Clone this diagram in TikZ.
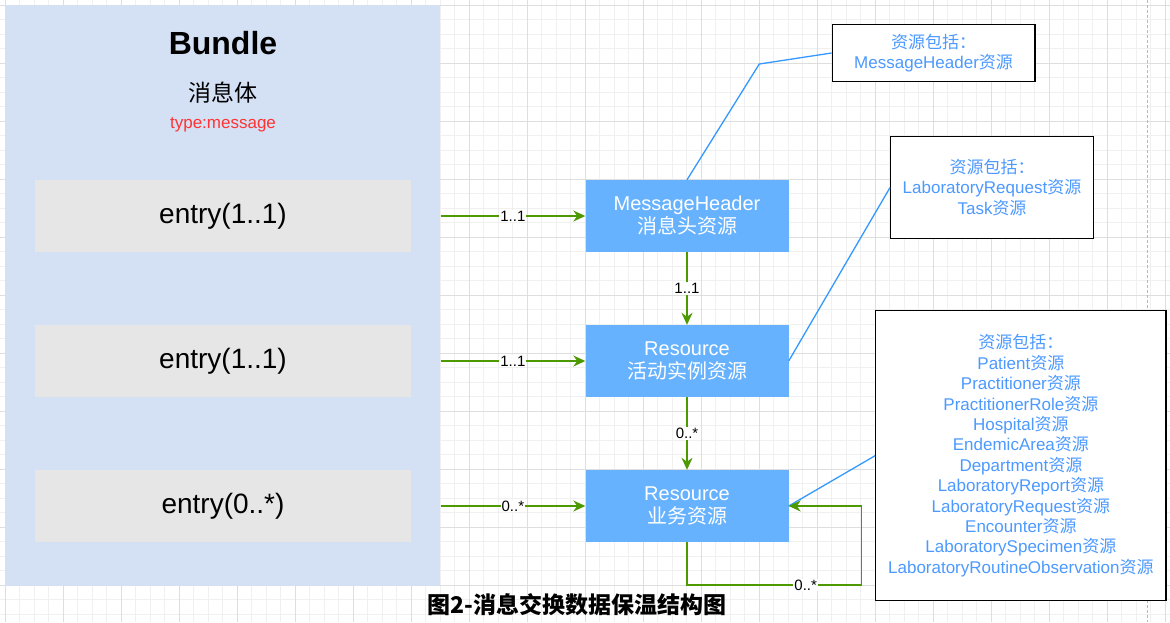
\documentclass[tikz,border=0pt]{standalone}
\usepackage{fontspec}
\setmainfont{Liberation Sans}
\newfontfamily\cjk{Noto Sans CJK SC}
\usetikzlibrary{arrows.meta}
\definecolor{bundlefill}{HTML}{D4E1F5}
\definecolor{entryfill}{HTML}{E6E6E6}
\definecolor{resfill}{HTML}{66B2FF}
\definecolor{flowgreen}{HTML}{4D9900}
\definecolor{linkblue}{HTML}{3399FF}
\definecolor{notetext}{HTML}{4C99FF}
\definecolor{typered}{HTML}{FF3333}
\newcommand\zh[1]{{\cjk #1}}
\newcommand\fsz[2]{\fontsize{#1}{#2}\selectfont}
\tikzset{
	minorgrid/.style={draw=black!6, line width=0.8pt},
	majorgrid/.style={draw=black!13, line width=0.8pt},
	entrybox/.style={fill=entryfill, minimum width=376pt, minimum height=72pt, font=\fsz{28}{32}},
	resbox/.style={fill=resfill, text=white, minimum width=203pt, minimum height=72pt, align=center, font=\fsz{20}{23}},
	notebox/.style={draw=black, line width=1.3pt, fill=white, text=notetext, align=center, font=\fsz{17}{20.4}},
	flow/.style={draw=flowgreen, line width=1.3pt, -{Stealth[length=12pt,width=11pt]}},
	mult/.style={fill=white, inner sep=1pt, font=\fsz{15}{18}},
	link/.style={draw=linkblue, line width=1.3pt},
}

\begin{document}
\begin{tikzpicture}[x=1pt, y=-1pt]
			%%%%% START %%%%%
			\useasboundingbox[fill=white] (0, 0) rectangle (1170, 622);
			
			% background grid
			\foreach \k in {0,...,80} \draw[minorgrid] ({5.3+14.5*\k}, 0) -- ({5.3+14.5*\k}, 622);
			\foreach \k in {0,...,42} \draw[minorgrid] (0, {5.3+14.5*\k}) -- (1170, {5.3+14.5*\k});
			\foreach \k in {0,...,20} \draw[majorgrid] ({5.3+58*\k}, 0) -- ({5.3+58*\k}, 622);
			\foreach \k in {0,...,10} \draw[majorgrid] (0, {5.3+58*\k}) -- (1170, {5.3+58*\k});
			\draw[black!28, line width=0.8pt, dash pattern=on 3pt off 2pt] (1147.7, 0) -- (1147.7, 622);
			
			% bundle
			\node[fill=bundlefill, inner sep=0pt, minimum width=435pt, minimum height=580.4pt] (bundle) at (222.8, 295.5) {};
			\node[anchor=base, font=\bfseries\fsz{32}{36}] (title) at (223, 54) {Bundle};
			\node[anchor=base, font=\cjk\fsz{23}{27}] (subtitle) at (223, 101) {消息体};
			\node[anchor=base, text=typered, font=\fsz{17}{20}] (type) at (223, 128) {type:message};
			
			\node[entrybox] (e1) at (223, 216) {entry(1..1)};
			\node[entrybox] (e2) at (223, 361) {entry(1..1)};
			\node[entrybox] (e3) at (223, 506) {entry(0..*)};
			
			% resources
			\node[resbox] (m1) at (687, 216) {MessageHeader\\\zh{消息头资源}};
			\node[resbox] (r1) at (687, 361) {Resource\\\zh{活动实例资源}};
			\node[resbox] (r2) at (687, 506) {Resource\\\zh{业务资源}};
			
			% notes
			\node[notebox, minimum width=202.7pt, minimum height=57.4pt] (n1) at (933.6, 53) {\zh{资源包括：}\\MessageHeader\zh{资源}};
			\node[notebox, minimum width=202.6pt, minimum height=101.6pt] (n2) at (992, 187.5) {\zh{资源包括：}\\LaboratoryRequest\zh{资源}\\Task\zh{资源}};
			\node[notebox, minimum width=290.3pt, minimum height=290pt] (n3) at (1020.9, 455.7) {\zh{资源包括：}\\Patient\zh{资源}\\Practitioner\zh{资源}\\PractitionerRole\zh{资源}\\Hospital\zh{资源}\\EndemicArea\zh{资源}\\Department\zh{资源}\\LaboratoryReport\zh{资源}\\LaboratoryRequest\zh{资源}\\Encounter\zh{资源}\\LaboratorySpecimen\zh{资源}\\LaboratoryRoutineObservation\zh{资源}};
			
			% note links
			\coordinate (bend) at (759.3, 64);
			\draw[link] (m1.north) -- (bend) -- (n1.west);
			\draw[link] (r1.east) -- (n2.west);
			\draw[link] (r2.east) -- (n3.west);
			
			% multiplicities
			\draw[flow] (e1 -| bundle.east) -- node[mult] {1..1} (m1.west);
			\draw[flow] (e2 -| bundle.east) -- node[mult] {1..1} (r1.west);
			\draw[flow] (e3 -| bundle.east) -- node[mult] {0..*} (r2.west);
			\draw[flow] (m1.south) -- node[mult] {1..1} (r1.north);
			\draw[flow] (r1.south) -- node[mult] {0..*} (r2.north);
			
			\coordinate (loopbl) at (687, 585);
			\coordinate (loopbr) at (861.5, 585);
			\coordinate (looptr) at (861.5, 506);
			\draw[flow] (r2.south) -- (loopbl) -- node[mult, pos=0.68] {0..*} (loopbr) -- (looptr) -- (r2.east);
			
			% caption
			\node[font=\cjk\bfseries\fsz{23}{27}] (caption) at (577, 605) {图2-消息交换数据保温结构图};
			
			%%%%% END %%%%%
\end{tikzpicture}
\end{document}
